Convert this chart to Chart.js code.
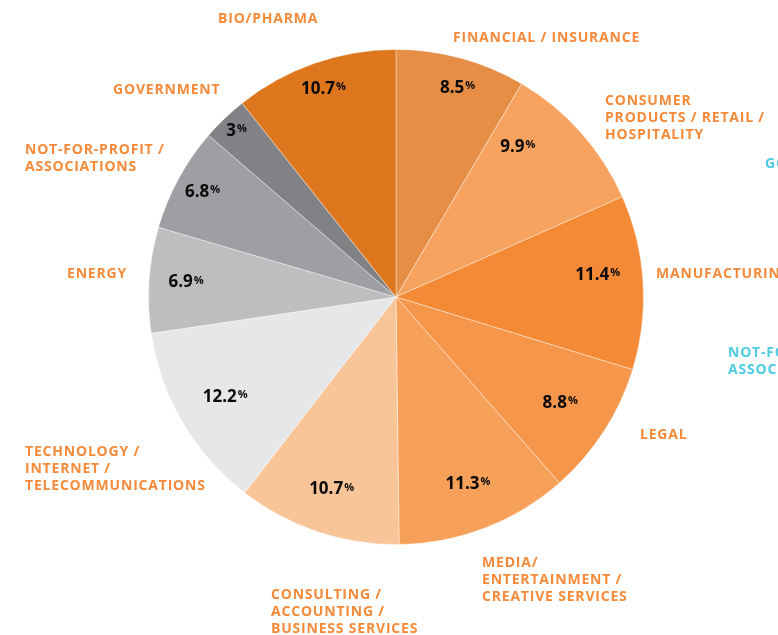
<!DOCTYPE html>
<html>
<head>
<meta charset="utf-8">
<script src="https://cdn.jsdelivr.net/npm/chart.js@4"></script>
<style>
  body { margin: 0; background: #fff; }
  #wrap { position: relative; width: 778px; height: 635px; }
</style>
</head>
<body>
<div id="wrap"><canvas id="chart"></canvas></div>
<script>
// data, clockwise from 12 o'clock
const categories = ["Financial / Insurance", "Consumer Products / Retail / Hospitality", "Manufacturing", "Legal",
  "Media/ Entertainment / Creative Services", "Consulting / Accounting / Business Services",
  "Technology / Internet / Telecommunications", "Energy", "Not-for-profit / Associations", "Government", "Bio/Pharma"]
const shares = [8.5, 9.9, 11.4, 8.8, 11.3, 10.7, 12.2, 6.9, 6.8, 3, 10.7]
const sliceColors = ["#E68E45", "#F7A35F", "#F48A35", "#F5964A", "#F6A05A", "#F8C598", "#E6E7E9", "#BDBEC0", "#9D9FA2", "#808285", "#DE761D"]

// text layout (outside labels), not data
const ORANGE = "#F58A3A"
const TEAL = "#4FCBE1"
const outsideLabels = [
  { lines: ["BIO/PHARMA"], x: 218, y: 19 },
  { lines: ["FINANCIAL / INSURANCE"], x: 453, y: 38 },
  { lines: ["CONSUMER", "PRODUCTS / RETAIL /", "HOSPITALITY"], x: 605, y: 101 },
  { lines: ["MANUFACTURING"], x: 656, y: 274 },
  { lines: ["LEGAL"], x: 640, y: 435 },
  { lines: ["MEDIA/", "ENTERTAINMENT /", "CREATIVE SERVICES"], x: 482, y: 563 },
  { lines: ["CONSULTING /", "ACCOUNTING /", "BUSINESS SERVICES"], x: 271, y: 595 },
  { lines: ["TECHNOLOGY /", "INTERNET /", "TELECOMMUNICATIONS"], x: 25, y: 452 },
  { lines: ["ENERGY"], x: 67, y: 274 },
  { lines: ["NOT-FOR-PROFIT /", "ASSOCIATIONS"], x: 25, y: 150 },
  { lines: ["GOVERNMENT"], x: 113, y: 90 },
  { lines: ["GOVERNMENT"], x: 765, y: 164, color: TEAL },
  { lines: ["NOT-FOR-PROFIT /", "ASSOCIATIONS"], x: 728, y: 353, color: TEAL }
]
// how far out along each slice's middle the percentage sits (fraction of radius)
const pctRadius = [0.88, 0.78, 0.82, 0.79, 0.81, 0.82, 0.80, 0.85, 0.89, 0.93, 0.89]
const pctAngleShift = [0.02, -0.16, -0.05, 0, 0, 0, 0, 0, 0, 0, 0]

const FONT = "'Open Sans', 'Noto Sans', sans-serif"

const labelPlugin = {
  id: "labels",
  afterDatasetsDraw(chart) {
    const ctx = chart.ctx
    ctx.save()
    ctx.textBaseline = "middle"
    // outside category labels
    ctx.font = "bold 14px " + FONT
    ctx.letterSpacing = "0.8px"
    ctx.textAlign = "left"
    outsideLabels.forEach(l => {
      ctx.fillStyle = l.color || ORANGE
      l.lines.forEach((t, i) => ctx.fillText(t, l.x, l.y + i * 17))
    })
    ctx.letterSpacing = "0px"
    // percentages inside slices
    const arcs = chart.getDatasetMeta(0).data
    arcs.forEach((arc, i) => {
      const p = arc.getProps(["x", "y", "startAngle", "endAngle", "outerRadius"], true)
      const a = (p.startAngle + p.endAngle) / 2 + pctAngleShift[i]
      const r = p.outerRadius * pctRadius[i]
      const cx = p.x + Math.cos(a) * r
      const cy = p.y + Math.sin(a) * r
      const num = String(shares[i])
      ctx.font = "bold 17px " + FONT
      const w1 = ctx.measureText(num).width
      ctx.font = "bold 11px " + FONT
      const w2 = ctx.measureText("%").width
      const x0 = cx - (w1 + w2 + 1) / 2
      ctx.fillStyle = "#0a0a0a"
      ctx.font = "bold 17px " + FONT
      ctx.fillText(num, x0, cy)
      ctx.font = "bold 11px " + FONT
      ctx.fillText("%", x0 + w1 + 1, cy - 2)
    })
    ctx.restore()
  }
}

new Chart(document.getElementById("chart"), {
  type: "pie",
  data: {
    labels: categories,
    datasets: [{
      data: shares,
      backgroundColor: sliceColors,
      borderColor: "rgba(255,255,255,0.4)",
      borderWidth: 1
    }]
  },
  options: {
    responsive: true,
    maintainAspectRatio: false,
    animation: false,
    layout: { padding: { left: 148, right: 134, top: 49, bottom: 90 } },
    plugins: {
      legend: { display: false },
      tooltip: { enabled: false }
    }
  },
  plugins: [labelPlugin]
})
</script>
</body>
</html>
